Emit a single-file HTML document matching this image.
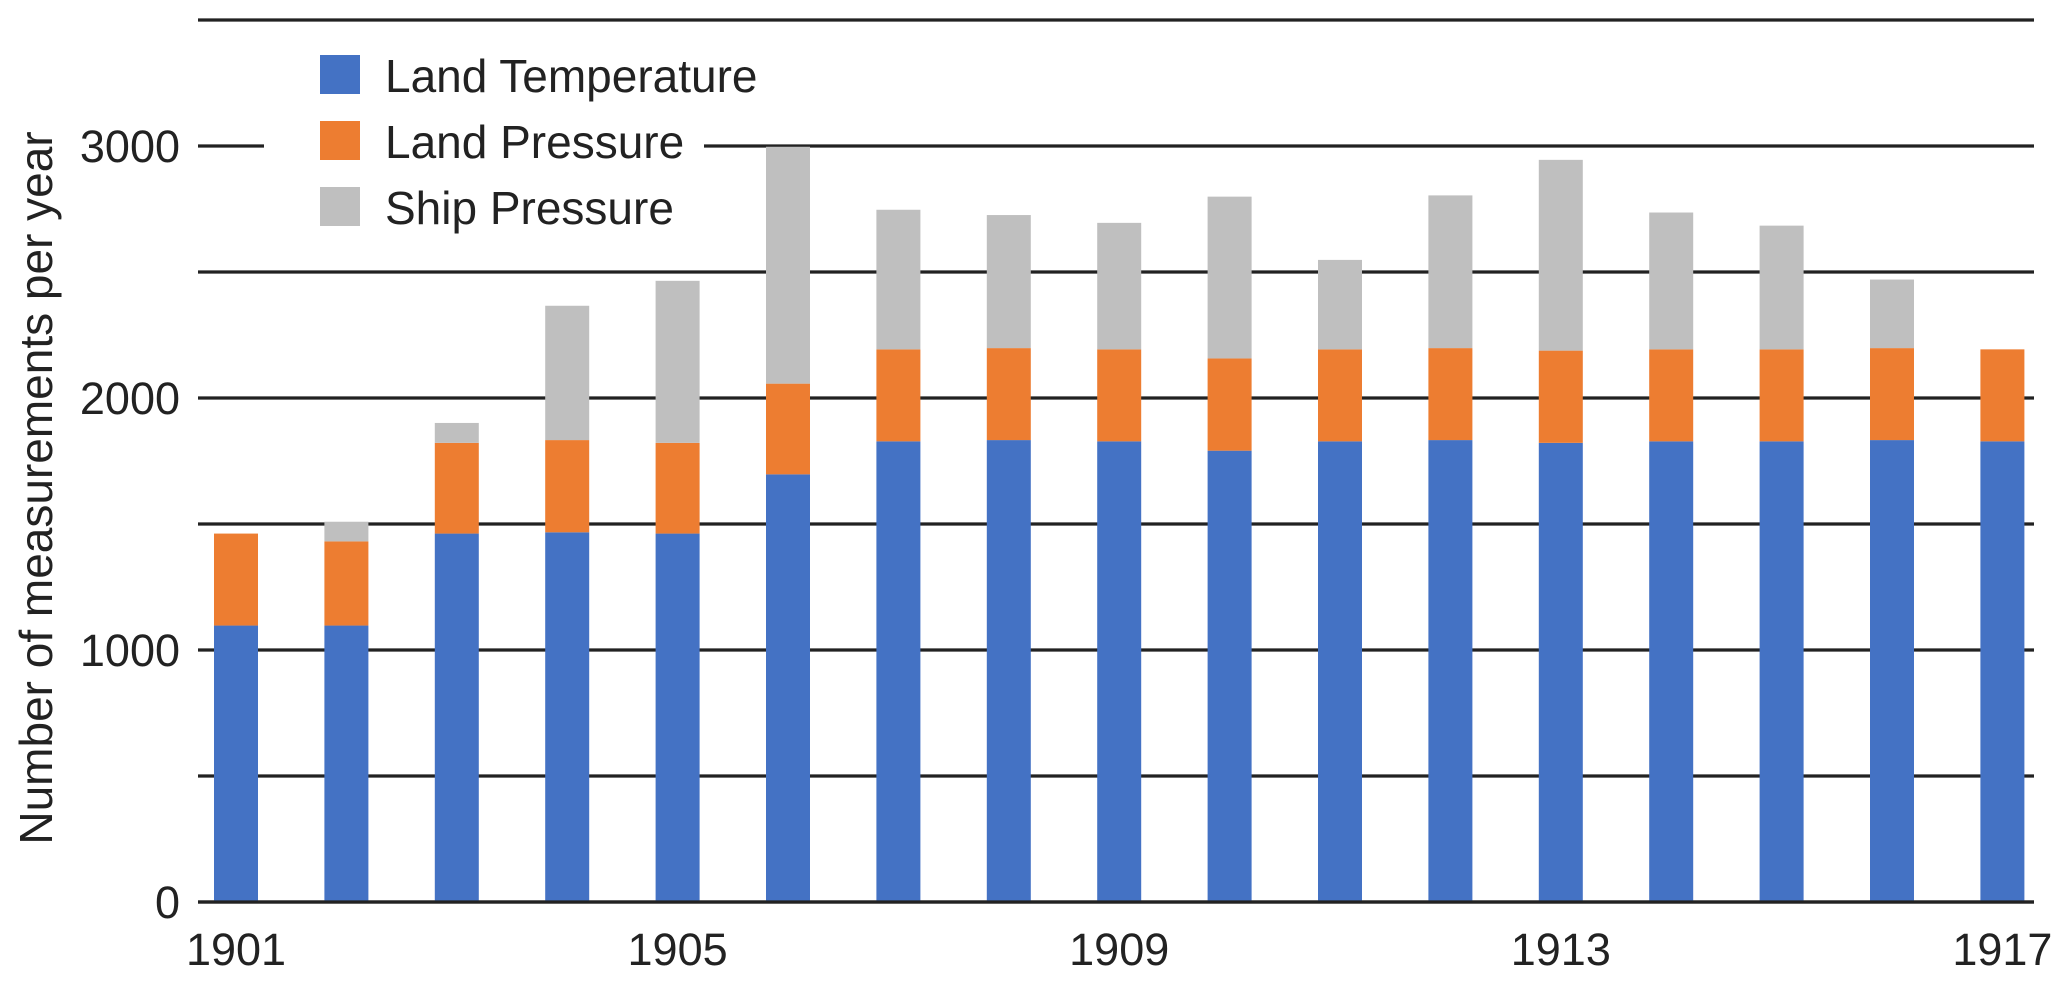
<!DOCTYPE html>
<html><head><meta charset="utf-8"><style>
html,body{margin:0;padding:0;background:#fff;}
svg text{font-family:"Liberation Sans",Arial,sans-serif;fill:#222;}
</style></head><body>
<svg id="chart" width="2067" height="981" viewBox="0 0 2067 981" xmlns="http://www.w3.org/2000/svg">
<g id="grid"></g>
<g id="bars"></g>
<g id="yticks"></g>
<g id="xticks"></g>
<text transform="translate(52,488) rotate(-90)" text-anchor="middle" font-size="46">Number of measurements per year</text>
<g>
<rect x="264" y="40" width="440" height="200" fill="#fff"/>
<g>
<rect x="320" y="55" width="40" height="39" fill="#4472c4"/>
<text x="385" y="92" font-size="46">Land Temperature</text></g>
<g>
<rect x="320" y="121" width="40" height="39" fill="#ed7d31"/>
<text x="385" y="158" font-size="46">Land Pressure</text></g>
<g>
<rect x="320" y="187" width="40" height="39" fill="#bfbfbf"/>
<text x="385" y="224" font-size="46">Ship Pressure</text></g>
</g>
</svg>
<script>
const years = [1901,1902,1903,1904,1905,1906,1907,1908,1909,1910,1911,1912,1913,1914,1915,1916,1917];
const landTemperature = [1097,1097,1462,1467,1462,1697,1828,1833,1828,1791,1828,1833,1822,1828,1828,1833,1828];
const landPressure = [365,334,360,366,360,360,365,365,365,366,365,365,366,365,365,365,365];
const shipPressure = [0,78,79,533,643,940,554,528,502,642,355,606,757,543,491,272,0];
const yTicks = [0,1000,2000,3000];
const yGrid = [0,500,1000,1500,2000,2500,3000,3500];
const xLabelYears = [1901,1905,1909,1913,1917];

const NS="http://www.w3.org/2000/svg";
const X0=198, X1=2034, Y0=902, PXPER=0.252;
const firstX=236, step=110.4, barW=44;
function yScale(v){return Y0 - v*PXPER;}
function xScale(yr){return firstX + (yr-years[0])*step;}
function mk(tag,attrs,parent){const e=document.createElementNS(NS,tag);for(const k in attrs)e.setAttribute(k,attrs[k]);parent.appendChild(e);return e;}

const grid=document.getElementById('grid');
yGrid.forEach(v=>{
  const l=mk('line',{x1:X0,x2:X1,y1:yScale(v),y2:yScale(v),stroke:'#222','stroke-width':3.2},grid);
  
  
});
const yt=document.getElementById('yticks');
yTicks.forEach(v=>{
  const t=mk('text',{x:180,y:yScale(v)+16,'text-anchor':'end','font-size':45},yt);
  t.textContent=v;
  
  
});
const xt=document.getElementById('xticks');
xLabelYears.forEach(yr=>{
  const t=mk('text',{x:xScale(yr),y:965,'text-anchor':'middle','font-size':45},xt);
  t.textContent=yr;
  
  
});
const bars=document.getElementById('bars');
const series=[[landTemperature,'#4472c4','land-temperature'],[landPressure,'#ed7d31','land-pressure'],[shipPressure,'#bfbfbf','ship-pressure']];
years.forEach((yr,i)=>{
  let base=0;
  series.forEach(([arr,col,nm])=>{
    const v=arr[i];
    if(v>0){
      const r=mk('rect',{x:xScale(yr)-barW/2,y:yScale(base+v),width:barW,height:yScale(base)-yScale(base+v),fill:col},bars);
      
      
    }
    base+=v;
  });
});
const bl=mk('line',{x1:X0,x2:X1,y1:Y0,y2:Y0,stroke:'#222','stroke-width':3.2},bars);


</script>
</body></html>
